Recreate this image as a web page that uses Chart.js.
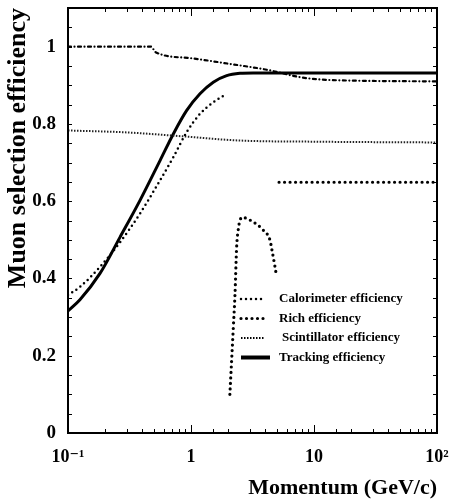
<!DOCTYPE html>
<html>
<head>
<meta charset="utf-8">
<script src="https://cdn.jsdelivr.net/npm/chart.js@4"></script>
<style>
  body { margin: 0; background: #fff; }
  #wrap { width: 457px; height: 501px; }
</style>
</head>
<body>
<div id="wrap"><canvas id="myChart"></canvas></div>
<script>
/* data: momentum (GeV/c) and efficiency */
var trackP = [0.1, 0.125, 0.182, 0.265, 0.385, 0.56, 0.718, 0.923, 1.183, 1.517, 1.95, 2.5, 3.2, 5, 100];
var trackEff = [0.316, 0.345, 0.413, 0.507, 0.602, 0.705, 0.774, 0.835, 0.878, 0.908, 0.925, 0.931, 0.932, 0.932, 0.932];

var caloP = [0.1, 0.125, 0.182, 0.265, 0.385, 0.56, 0.718, 0.923, 1.183, 1.517, 1.95];
var caloEff = [0.357, 0.378, 0.43, 0.494, 0.568, 0.654, 0.714, 0.779, 0.826, 0.856, 0.878];

var richP = [2.07, 2.21, 2.28, 2.35, 2.43, 2.5, 2.6, 3.21, 3.87, 4.39, 4.53, 4.82, 4.97, 5.1, 5.2, 100];
var richEff = [0.1, 0.275, 0.361, 0.481, 0.53, 0.55, 0.558, 0.546, 0.525, 0.499, 0.477, 0.43, 0.404, null, 0.649, 0.649];

var scintP = [0.1, 0.3, 0.7, 2.5, 10, 100];
var scintEff = [0.783, 0.778, 0.77, 0.757, 0.754, 0.752];

var combP = [0.1, 0.47, 0.52, 1, 2, 4.15, 7.7, 11.2, 20.7, 100];
var combEff = [1.0, 1.0, 0.985, 0.97, 0.956, 0.94, 0.921, 0.915, 0.912, 0.91];

var xTickLabels = { '0.1': '10\u207B\u00B9', '1': '1', '10': '10', '100': '10\u00B2' };
var legendLabels = ['Calorimeter efficiency', 'Rich efficiency', 'Scintillator efficiency', 'Tracking efficiency'];

function pts(xs, ys) {
    return xs.map(function (x, i) { return { x: x, y: ys[i] }; });
}

var serif = '"Liberation Serif", "DejaVu Serif", serif';

/* inward ticks on all four sides + frame + legend inside the plot */
var frameTicks = {
    id: 'frameTicks',
    afterDraw: function (chart) {
        var c = chart.ctx, a = chart.chartArea;
        var sx = chart.scales.x, sy = chart.scales.y;
        c.save();
        c.strokeStyle = '#000';
        c.lineWidth = 1;
        sx.ticks.forEach(function (t) {
            var px = Math.round(sx.getPixelForValue(t.value)) + 0.5;
            var lg = Math.log10(t.value);
            var len = Math.abs(lg - Math.round(lg)) < 1e-6 ? 8 : 4;
            c.beginPath();
            c.moveTo(px, a.bottom); c.lineTo(px, a.bottom - len);
            c.moveTo(px, a.top); c.lineTo(px, a.top + len);
            c.stroke();
        });
        sy.ticks.forEach(function (t) {
            var py = Math.round(sy.getPixelForValue(t.value)) + 0.5;
            c.beginPath();
            c.moveTo(a.left, py); c.lineTo(a.left + 4, py);
            c.moveTo(a.right, py); c.lineTo(a.right - 4, py);
            c.stroke();
        });
        c.lineWidth = 2;
        c.strokeRect(a.left, a.top, a.right - a.left, a.bottom - a.top);

        var lx = a.left + 173, ly = a.top + 291;
        c.font = 'bold 13px ' + serif;
        c.textBaseline = 'middle';
        c.fillStyle = '#000';
        legendLabels.forEach(function (lab, i) {
            var ds = chart.data.datasets[i];
            var y = ly + i * 19.5;
            c.beginPath();
            c.lineWidth = i === 3 ? 4 : ds.borderWidth;
            c.lineCap = ds.borderCapStyle || 'butt';
            c.setLineDash(ds.borderDash || []);
            c.moveTo(lx, y); c.lineTo(lx + (i === 3 ? 29 : 24), y);
            c.stroke();
            c.setLineDash([]);
            c.fillText(lab, lx + 38 + (i === 2 ? 3 : 0), y);
        });
        c.restore();
    }
};

var ctx = document.getElementById('myChart').getContext('2d');
var myChart = new Chart(ctx, {
    type: 'line',
    data: {
        datasets: [{
            label: legendLabels[0],
            data: pts(caloP, caloEff),
            borderColor: '#000',
            borderWidth: 2.5,
            borderDash: [0, 5],
            borderCapStyle: 'round',
            cubicInterpolationMode: 'monotone'
        }, {
            label: legendLabels[1],
            data: pts(richP, richEff),
            borderColor: '#000',
            borderWidth: 3.2,
            borderDash: [0, 5.5],
            borderCapStyle: 'round',
            spanGaps: false,
            cubicInterpolationMode: 'monotone'
        }, {
            label: legendLabels[2],
            data: pts(scintP, scintEff),
            borderColor: '#222',
            borderWidth: 2,
            borderDash: [1.5, 1.5],
            cubicInterpolationMode: 'monotone'
        }, {
            label: legendLabels[3],
            data: pts(trackP, trackEff),
            borderColor: '#000',
            borderWidth: 3,
            cubicInterpolationMode: 'monotone'
        }, {
            label: 'combined',
            data: pts(combP, combEff),
            borderColor: '#000',
            borderWidth: 2.2,
            borderDash: [3, 3.5, 0, 3.5],
            borderCapStyle: 'round',
            cubicInterpolationMode: 'monotone'
        }]
    },
    options: {
        responsive: true,
        maintainAspectRatio: false,
        animation: false,
        layout: { padding: { top: 8, right: 20, left: 0, bottom: 0 } },
        elements: { point: { radius: 0 } },
        plugins: {
            legend: { display: false },
            tooltip: { enabled: false }
        },
        scales: {
            x: {
                type: 'logarithmic',
                min: 0.1,
                max: 100,
                grid: { display: false, drawTicks: false },
                border: { display: false },
                afterFit: function (s) { s.height = 68; s.paddingLeft = 0; s.paddingRight = 0; },
                ticks: {
                    autoSkip: false,
                    maxRotation: 0,
                    padding: 14,
                    color: '#000',
                    font: { family: serif, size: 18, weight: 'bold' },
                    callback: function (v) {
                        var k = String(Math.round(v * 1000) / 1000);
                        return xTickLabels[k] || '';
                    }
                },
                title: {
                    display: true,
                    text: 'Momentum (GeV/c)',
                    align: 'end',
                    color: '#000',
                    font: { family: serif, size: 22, weight: 'bold' },
                    padding: { top: 6, bottom: -1 }
                }
            },
            y: {
                min: 0,
                max: 1.1,
                grid: { display: false, drawTicks: false },
                border: { display: false },
                afterFit: function (s) { s.width = 68; s.paddingTop = 0; s.paddingBottom = 0; },
                ticks: {
                    stepSize: 0.05,
                    autoSkip: false,
                    padding: 12,
                    color: '#000',
                    font: { family: serif, size: 19, weight: 'bold' },
                    callback: function (v) {
                        var r = Math.round(v * 100);
                        return r % 20 === 0 ? String(r / 100) : '';
                    }
                },
                title: {
                    display: true,
                    text: 'Muon selection efficiency',
                    align: 'end',
                    color: '#000',
                    font: { family: serif, size: 26, weight: 'bold' },
                    padding: { top: 3, bottom: 0 }
                }
            }
        }
    },
    plugins: [frameTicks]
});
</script>
</body>
</html>
